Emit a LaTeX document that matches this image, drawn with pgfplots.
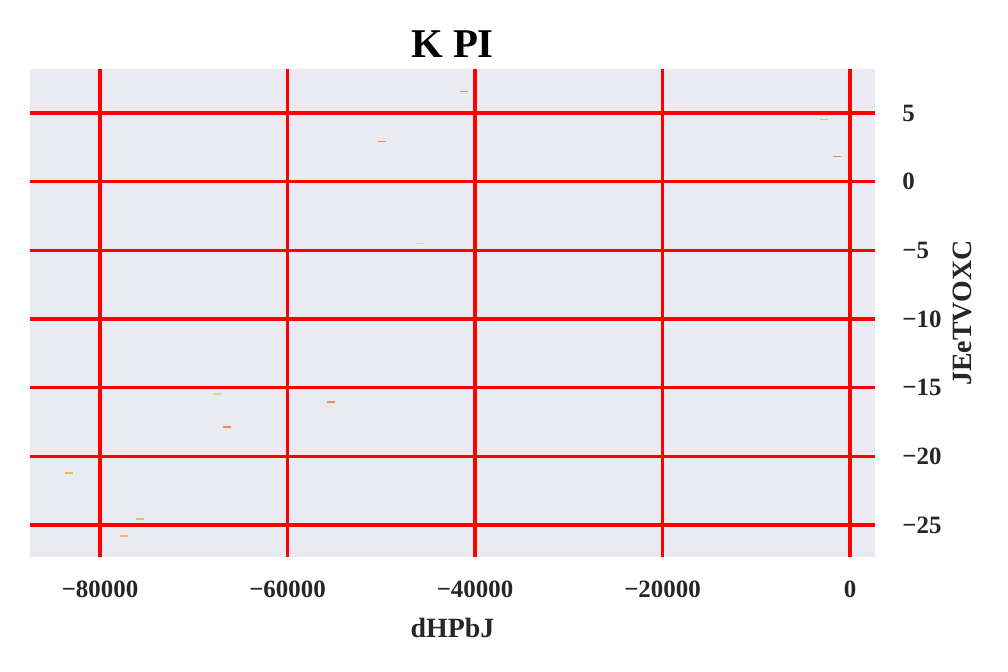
\documentclass[border=0pt]{standalone}
\usepackage{pgfplots}
\pgfplotsset{compat=1.18}
\usepackage{fontspec}
\setmainfont{Liberation Serif}
\definecolor{bgc}{HTML}{EAEAF2}
\definecolor{txt}{HTML}{262626}
\definecolor{cA}{HTML}{F08C55}
\definecolor{cB}{HTML}{C5E08A}
\definecolor{cC}{HTML}{F5B860}
\begin{document}
\begin{tikzpicture}
\begin{axis}[
  scale only axis,
  width=422.5bp, height=244bp,
  xmin=-87470, xmax=2670, ymin=-27.33, ymax=8.21,
  axis background/.style={fill=bgc},
  axis line style={draw=none},
  major tick length=0pt,
  scaled x ticks=false, scaled y ticks=false,
  xtick={-80000,-60000,-40000,-20000,0},
  xticklabels={−80000,−60000,−40000,−20000,0},
  ytick={-25,-20,-15,-10,-5,0,5},
  yticklabels={−25,−20,−15,−10,−5,0,5},
  yticklabel pos=right,
  xticklabel style={font=\fontsize{12.5}{14}\selectfont\bfseries, text=txt, anchor=north, inner sep=0pt, yshift=-12bp},
  yticklabel style={font=\fontsize{12.5}{14}\selectfont\bfseries, text=txt, anchor=west, inner sep=0pt, xshift=13.5bp},
  grid=major,
  major grid style={red, line width=1.6bp},
  every axis title shift=0pt,
  title={K PI},
  title style={font=\fontsize{20.5}{24}\selectfont\bfseries, text=black, at={(axis description cs:0.5,1)}, anchor=base, inner sep=0pt, yshift=5.5bp},
  xlabel={dHPbJ},
  xlabel style={font=\fontsize{14}{16}\selectfont\bfseries, text=txt, at={(axis description cs:0.5,-0.1455)}, anchor=center},
  ylabel={JEeTVOXC},
  ylabel style={font=\fontsize{14}{16}\selectfont\bfseries, text=txt, at={(axis description cs:1.103,0.5)}, anchor=center},
]
\coordinate (sw) at (axis description cs:0,0);
\coordinate (ne) at (axis description cs:1,1);
\addplot[only marks, mark=-, mark size=2bp, line width=0.8bp, color=cA] coordinates {
(-41140,6.58) (-49890,2.94) (-1350,1.85) (-55330,-16.06) (-66420,-17.88)
};
\addplot[only marks, mark=-, mark size=2bp, line width=0.8bp, color=cB] coordinates {
(-45840,-4.49) (-67490,-15.48)
};
\addplot[only marks, mark=-, mark size=2bp, line width=0.8bp, color=cC] coordinates {
(-2740,4.54) (-83270,-21.23) (-75700,-24.58) (-77410,-25.82)
};
\end{axis}
\pgfresetboundingbox
\path ([shift={(-15bp,-57.5bp)}]sw) rectangle ([shift={(66.5bp,34.5bp)}]ne);
\end{tikzpicture}
\end{document}
